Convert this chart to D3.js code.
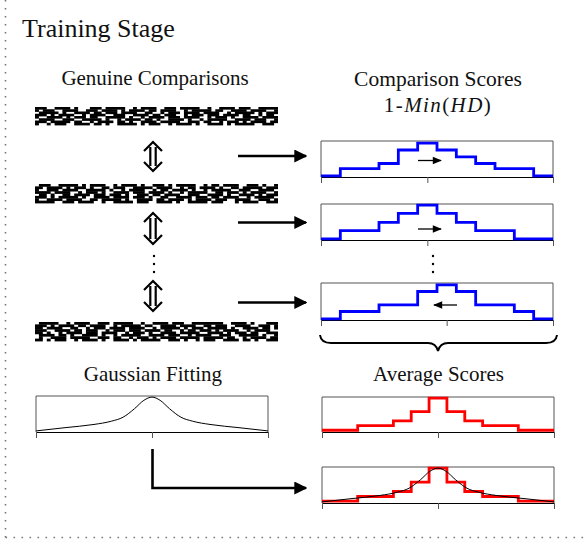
<!DOCTYPE html>
<html>
<head>
<meta charset="utf-8">
<script src="https://cdn.jsdelivr.net/npm/d3@7"></script>
</head>
<body style="margin:0">
<svg id="fig" width="586" height="542"></svg>
<script>

// comparison score histograms (bin heights, 0..1 of the box)
var compScores1 = [0.03, 0.235, 0.235, 0.375, 0.75, 0.94, 0.75, 0.56, 0.375, 0.235, 0.235, 0.03];
var compScores2 = [0.03, 0.26, 0.26, 0.49, 0.74, 0.97, 0.74, 0.49, 0.26, 0.26, 0.03, 0.03];
var compScores3 = [0.03, 0.23, 0.23, 0.41, 0.41, 0.77, 0.95, 0.77, 0.41, 0.41, 0.23, 0.03];
var compTicks1 = [0, 5.5, 12];
var compTicks2 = [0, 5.5, 12];
var compTicks3 = [0, 6.5, 12];

// averaged scores
var avgScores = [0.05, 0.05, 0.18, 0.18, 0.32, 0.58, 0.97, 0.58, 0.32, 0.18, 0.18, 0.05, 0.05];
var avgTicks = [0, 6.5, 13];

// fitted curve (offset from centre, height)
var fitU = [-1, -0.75, -0.5, -0.35, -0.25, -0.15, -0.07, 0, 0.07, 0.15, 0.25, 0.35, 0.5, 0.75, 1];
var fitV = [0.03, 0.12, 0.21, 0.3, 0.41, 0.65, 0.88, 0.97, 0.88, 0.65, 0.41, 0.3, 0.21, 0.12, 0.03];
var fitTicks = [-1, 0, 1];

// iris code texture rows ('#' = black)
var irisRows = [
    "###..####.#...###.#####..#.####..###.#####..#..####.###..#####",
    "#.###..####..###.####.#.####.##.####..#.#####.##..####.####..#",
    ".#####.#..####.##.###.####..##..#.###.####.####..#.#####.#.###",
    "###.#.####..#.####..###..####.##.###..#.###.###.####.##..#.##.",
    "#..####.#.###.##..#####.#..#.####.###.####..#.###.#..####.####",
    ".####..###..#####.#..#.####.##.#..####.#..#.#####..####.###..#",
    "###.#####.##..#.####.##.#..####.#####..###.##..#.###.#.####.##",
    "#..#.###..####.##.#..#####.#.###..#.####.#..####.#.#####..###."
];

var svg = d3.select("#fig");

// ---- frame (dotted left and bottom edges)
svg.append("line")
    .attr("x1", 5.5).attr("y1", 0).attr("x2", 5.5).attr("y2", 537.5)
    .attr("stroke", "#777").attr("stroke-width", 1.6)
    .attr("stroke-dasharray", "1.6,6.4");
svg.append("line")
    .attr("x1", 5.5).attr("y1", 537.5).attr("x2", 586).attr("y2", 537.5)
    .attr("stroke", "#777").attr("stroke-width", 1.6)
    .attr("stroke-dasharray", "1.6,6.4");

// ---- arrow head markers
var defs = svg.append("defs");
defs.append("marker")
    .attr("id", "head")
    .attr("viewBox", "0 0 10 10")
    .attr("refX", 9).attr("refY", 5)
    .attr("markerWidth", 5).attr("markerHeight", 5)
    .attr("markerUnits", "strokeWidth")
    .attr("orient", "auto")
    .append("path").attr("d", "M0,0 L10,5 L0,10 z").attr("fill", "#000");
defs.append("marker")
    .attr("id", "small")
    .attr("viewBox", "0 0 10 10")
    .attr("refX", 9).attr("refY", 5)
    .attr("markerWidth", 8).attr("markerHeight", 7)
    .attr("markerUnits", "strokeWidth")
    .attr("orient", "auto")
    .append("path").attr("d", "M0,1 L10,5 L0,9 z").attr("fill", "#000");

// ---- texts
var labels = [
    { x: 22, y: 37, size: 26, text: "Training Stage", anchor: "start" },
    { x: 155, y: 84.5, size: 21, text: "Genuine Comparisons", anchor: "middle" },
    { x: 438, y: 85.5, size: 21.5, text: "Comparison Scores", anchor: "middle" },
    { x: 153, y: 381, size: 21, text: "Gaussian Fitting", anchor: "middle" },
    { x: 438.5, y: 380.5, size: 21, text: "Average Scores", anchor: "middle" }
];
svg.selectAll("text.lbl")
    .data(labels).enter().append("text")
    .attr("class", "lbl")
    .attr("x", function(d) { return d.x; })
    .attr("y", function(d) { return d.y; })
    .attr("font-size", function(d) { return d.size; })
    .attr("text-anchor", function(d) { return d.anchor; })
    .style("font-family", "'Liberation Serif'")
    .attr("fill", "#111")
    .text(function(d) { return d.text; });

var hd = svg.append("text")
    .attr("x", 438).attr("y", 112)
    .attr("font-size", 21)
    .attr("text-anchor", "middle")
    .style("font-family", "'Liberation Serif'")
    .style("letter-spacing", "1.4px")
    .attr("fill", "#111");
hd.append("tspan").text("1-");
hd.append("tspan").attr("font-style", "italic").text("Min");
hd.append("tspan").text("(");
hd.append("tspan").attr("font-style", "italic").text("HD");
hd.append("tspan").text(")");

// ---- iris code strips
function drawIris(x, y, w, h, rows) {
    var g = svg.append("g");
    var ch = h / rows.length;
    rows.forEach(function(r, j) {
        var cw = w / r.length;
        var re = /#+/g, m;
        while ((m = re.exec(r))) {
            g.append("rect")
                .attr("x", x + m.index * cw)
                .attr("y", y + j * ch)
                .attr("width", m[0].length * cw)
                .attr("height", ch + 0.4)
                .attr("fill", "#000");
        }
    });
}
var irisRows2 = irisRows.map(function(r) { return r.split("").reverse().join(""); }).reverse();
var irisRows3 = irisRows.map(function(r, i) { return r.slice(17 + i) + r.slice(0, 17 + i); });
drawIris(35, 107, 243, 18, irisRows);
drawIris(35, 184, 243, 19, irisRows2);
drawIris(35, 322, 243, 19, irisRows3);

// ---- up/down double arrows
function dblArrow(cx, top, bot) {
    var g = svg.append("g")
        .attr("fill", "none").attr("stroke", "#000")
        .attr("stroke-width", 2.2).attr("stroke-linejoin", "miter");
    g.append("path").attr("d", "M" + (cx - 9) + "," + (top + 9) + " L" + cx + "," + top + " L" + (cx + 9) + "," + (top + 9));
    g.append("path").attr("d", "M" + (cx - 9) + "," + (bot - 9) + " L" + cx + "," + bot + " L" + (cx + 9) + "," + (bot - 9));
    g.append("line").attr("x1", cx - 2.7).attr("x2", cx - 2.7).attr("y1", top + 5).attr("y2", bot - 5);
    g.append("line").attr("x1", cx + 2.7).attr("x2", cx + 2.7).attr("y1", top + 5).attr("y2", bot - 5);
}
dblArrow(153, 142, 171);
dblArrow(153, 213, 244);
dblArrow(153, 281, 311);

function vdots(cx, ys) {
    svg.append("g").selectAll("circle")
        .data(ys).enter().append("circle")
        .attr("cx", cx).attr("cy", function(d) { return d; })
        .attr("r", 1.2).attr("fill", "#000");
}
vdots(154, [256, 264, 272]);
vdots(433, [256, 264, 272]);

// ---- horizontal arrows
[156, 222.5, 302.5].forEach(function(y) {
    svg.append("line")
        .attr("x1", 238).attr("y1", y).attr("x2", 306).attr("y2", y)
        .attr("stroke", "#000").attr("stroke-width", 2.6)
        .attr("marker-end", "url(#head)");
});

// ---- histogram panel
function panel(x0, y0, w, h, n, ticks) {
    var g = svg.append("g");
    var x = d3.scaleLinear().domain([0, n]).range([x0, x0 + w]);
    var y = d3.scaleLinear().domain([0, 1]).range([y0 + h, y0]);
    g.append("path")
        .attr("d", "M" + x0 + "," + (y0 + h) + " V" + y0 + " H" + (x0 + w) + " V" + (y0 + h))
        .attr("fill", "none").attr("stroke", "#555").attr("stroke-width", 1);
    g.append("g")
        .attr("transform", "translate(0," + (y0 + h) + ")")
        .call(d3.axisBottom(x).tickValues(ticks).tickSize(6).tickSizeOuter(0).tickFormat(""))
        .call(function(a) {
            a.select(".domain").attr("stroke", "#000");
            a.selectAll(".tick line").attr("stroke", "#555");
        });
    return { g: g, x: x, y: y };
}

function steps(p, values, color) {
    var pts = values.map(function(v, i) { return [i, v]; });
    pts.push([values.length, values[values.length - 1]]);
    p.g.append("path")
        .attr("d", d3.line()
            .x(function(d) { return p.x(d[0]); })
            .y(function(d) { return p.y(d[1]); })
            .curve(d3.curveStepAfter)(pts))
        .attr("fill", "none").attr("stroke", color)
        .attr("stroke-width", 2.8);
}

function fitCurve(p, x0, w) {
    var xu = d3.scaleLinear().domain([-1, 1]).range([x0, x0 + w]);
    var pts = fitU.map(function(u, i) { return [u, fitV[i]]; });
    p.g.append("path")
        .attr("d", d3.line()
            .x(function(d) { return xu(d[0]); })
            .y(function(d) { return p.y(d[1]); })
            .curve(d3.curveMonotoneX)(pts))
        .attr("fill", "none").attr("stroke", "#000").attr("stroke-width", 1);
}

function innerArrow(x1, x2, y) {
    svg.append("line")
        .attr("x1", x1).attr("y1", y).attr("x2", x2).attr("y2", y)
        .attr("stroke", "#000").attr("stroke-width", 1.3)
        .attr("marker-end", "url(#small)");
}

var p1 = panel(321, 141, 232, 36, compScores1.length, compTicks1);
steps(p1, compScores1, "#0000ff");
innerArrow(418, 441, 160.5);

var p2 = panel(321, 204, 232, 36, compScores2.length, compTicks2);
steps(p2, compScores2, "#0000ff");
innerArrow(418, 441, 229);

var p3 = panel(321, 283, 232, 37, compScores3.length, compTicks3);
steps(p3, compScores3, "#0000ff");
innerArrow(457, 434, 305);

// brace under the comparison panels
svg.append("path")
    .attr("d", "M320,335 Q321,343 331,343 L428,343 Q436,343 438,351 Q440,343 448,343 L546,343 Q556,343 557,335")
    .attr("fill", "none").attr("stroke", "#000").attr("stroke-width", 2);

var pa = panel(322, 397, 232, 35, avgScores.length, avgTicks);
steps(pa, avgScores, "#ff0000");

var pg = panel(36, 396, 232, 36, 2, [0, 1, 2]);
fitCurve(pg, 36, 232);

var pf = panel(322, 467, 232, 36, avgScores.length, avgTicks);
steps(pf, avgScores, "#ff0000");
fitCurve(pf, 322, 232);

// L-shaped arrow from the fit to the final panel
svg.append("path")
    .attr("d", "M152.5,449 V488 H306")
    .attr("fill", "none").attr("stroke", "#000").attr("stroke-width", 2.6)
    .attr("marker-end", "url(#head)");

</script>
</body>
</html>
